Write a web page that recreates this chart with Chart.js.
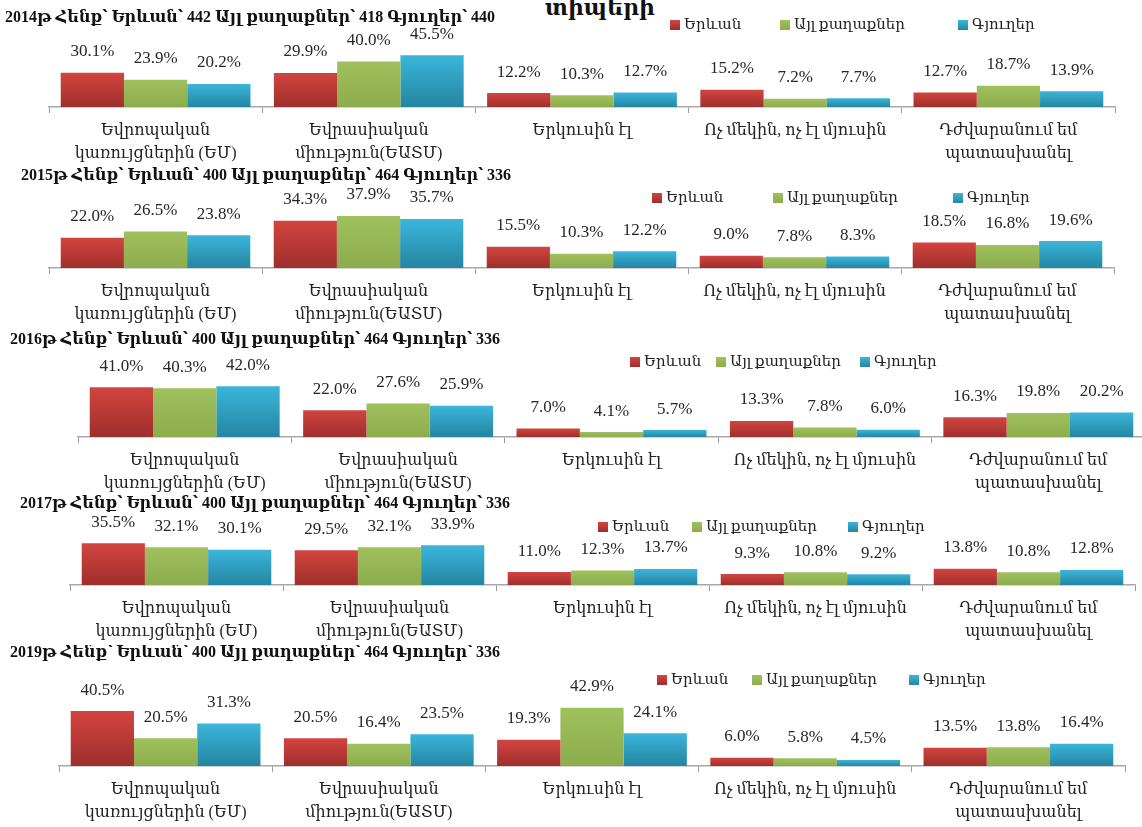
<!DOCTYPE html>
<html><head><meta charset="utf-8">
<script src="https://cdn.jsdelivr.net/npm/chart.js@4.4.1/dist/chart.umd.min.js"></script>
<style>
html,body{margin:0;padding:0;width:1142px;height:827px;overflow:hidden;background:#fff;}
canvas{position:absolute;left:0;}
#top{position:absolute;left:545px;top:-3px;font:bold 22px 'Liberation Serif','DejaVu Serif',serif;line-height:22px;color:#111;white-space:nowrap;}
</style></head><body>
<div id="top">տիպերի</div>
<script>
// ---- data ----
const categories = [["Եվրոպական","կառույցներին (ԵՄ)"],["Եվրասիական","միություն(ԵԱՏՄ)"],"Երկուսին էլ","Ոչ մեկին, ոչ էլ մյուսին",["Դժվարանում եմ","պատասխանել"]];
const seriesNames = ["Երևան","Այլ քաղաքներ","Գյուղեր"];
const years = ["2014","2015","2016","2017","2019"];
const chartTitles = [
  "2014թ Հենք՝ Երևան՝ 442 Այլ քաղաքներ՝ 418 Գյուղեր՝ 440",
  "2015թ Հենք՝ Երևան՝ 400 Այլ քաղաքներ՝ 464 Գյուղեր՝ 336",
  "2016թ Հենք՝ Երևան՝ 400 Այլ քաղաքներ՝ 464 Գյուղեր՝ 336",
  "2017թ Հենք՝ Երևան՝ 400 Այլ քաղաքներ՝ 464 Գյուղեր՝ 336",
  "2019թ Հենք՝ Երևան՝ 400 Այլ քաղաքներ՝ 464 Գյուղեր՝ 336"
];
const yerevan = [
  [30.1, 29.9, 12.2, 15.2, 12.7],
  [22.0, 34.3, 15.5, 9.0, 18.5],
  [41.0, 22.0, 7.0, 13.3, 16.3],
  [35.5, 29.5, 11.0, 9.3, 13.8],
  [40.5, 20.5, 19.3, 6.0, 13.5]
];
const otherCities = [
  [23.9, 40.0, 10.3, 7.2, 18.7],
  [26.5, 37.9, 10.3, 7.8, 16.8],
  [40.3, 27.6, 4.1, 7.8, 19.8],
  [32.1, 32.1, 12.3, 10.8, 10.8],
  [20.5, 16.4, 42.9, 5.8, 13.8]
];
const villages = [
  [20.2, 45.5, 12.7, 7.7, 13.9],
  [23.8, 35.7, 12.2, 8.3, 19.6],
  [42.0, 25.9, 5.7, 6.0, 20.2],
  [30.1, 33.9, 13.7, 9.2, 12.8],
  [31.3, 23.5, 24.1, 4.5, 16.4]
];
const yMaxes = [50, 40, 45, 40, 45];

// ---- layout / style ----
const FONT = "'Liberation Serif','DejaVu Serif',serif";
const layouts = [
  {top:0,   h:170, w:1142, plotTop:50,   base:107, left:49, right:1115, tx:5,  ty:18, lx:[670,780,958], ly:25},
  {top:165, h:170, w:1142, plotTop:48,   base:103, left:49, right:1114, tx:21, ty:11, lx:[652,773,953], ly:33},
  {top:330, h:170, w:1160, plotTop:52.5, base:107, left:78, right:1145, tx:10, ty:10, lx:[630,716,860], ly:32},
  {top:495, h:155, w:1142, plotTop:43,   base:90,  left:70, right:1135, tx:20, ty:9,  lx:[598,692,848], ly:32},
  {top:645, h:182, w:1142, plotTop:60,   base:121, left:59, right:1125, tx:10, ty:8,  lx:[657,752,909], ly:35}
];
const colors = [
  {top:'#D3443F', bottom:'#9E2F2C', flat:'#C0504D'},
  {top:'#9FC15C', bottom:'#8DAC4E', flat:'#9BBB59'},
  {top:'#3AB6DB', bottom:'#2585A2', flat:'#2FA3C6'}
];

function barFill(c0){
  return (c) => {
    const chart = c.chart, area = chart.chartArea;
    if (!area || c.type !== 'data' || !chart.scales.y) return c0.flat;
    const y = chart.scales.y.getPixelForValue(c.raw);
    const g = chart.ctx.createLinearGradient(0, y, 0, area.bottom);
    g.addColorStop(0, c0.top); g.addColorStop(1, c0.bottom);
    return g;
  };
}

const decor = {
  id: 'decor',
  afterDatasetsDraw(chart) {
    const ctx = chart.ctx;
    ctx.save();
    ctx.font = '17px ' + FONT;
    ctx.fillStyle = '#262626';
    ctx.textAlign = 'center';
    ctx.textBaseline = 'middle';
    chart.data.datasets.forEach((ds, i) => {
      chart.getDatasetMeta(i).data.forEach((bar, j) => {
        ctx.fillText(ds.data[j].toFixed(1) + '%', bar.x, bar.y - 21);
      });
    });
    ctx.restore();
  },
  afterDraw(chart, args, o) {
    const ctx = chart.ctx;
    ctx.save();
    ctx.textBaseline = 'middle';
    ctx.textAlign = 'left';
    ctx.font = 'bold 16px ' + FONT;
    ctx.fillStyle = '#111';
    ctx.fillText(o.title, o.tx, o.ty);
    ctx.font = '15px ' + FONT;
    chart.data.datasets.forEach((ds, i) => {
      const x = o.lx[i], y = o.ly;
      const g = ctx.createLinearGradient(0, y - 5, 0, y + 5);
      g.addColorStop(0, colors[i].top); g.addColorStop(1, colors[i].bottom);
      ctx.fillStyle = g;
      ctx.fillRect(x, y - 5, 10, 10);
      ctx.fillStyle = '#222';
      ctx.fillText(ds.label, x + 14, y);
    });
    ctx.restore();
  }
};

years.forEach((yr, k) => {
  const L = layouts[k];
  const cv = document.createElement('canvas');
  cv.width = L.w; cv.height = L.h;
  cv.style.top = L.top + 'px';
  cv.style.width = L.w + 'px'; cv.style.height = L.h + 'px';
  document.body.appendChild(cv);
  const series = [yerevan[k], otherCities[k], villages[k]];
  new Chart(cv, {
    type: 'bar',
    data: {
      labels: categories,
      datasets: series.map((d, i) => ({
        label: seriesNames[i],
        data: d,
        backgroundColor: barFill(colors[i]),
        borderWidth: 0,
        categoryPercentage: 0.89,
        barPercentage: 1.0
      }))
    },
    options: {
      responsive: false,
      animation: false,
      layout: { padding: { left: L.left, right: L.w - L.right, top: L.plotTop, bottom: 0 } },
      plugins: {
        legend: { display: false },
        tooltip: { enabled: false },
        title: { display: false },
        decor: { title: chartTitles[k], tx: L.tx, ty: L.ty, lx: L.lx, ly: L.ly }
      },
      scales: {
        x: {
          grid: { display: true, drawOnChartArea: false, drawTicks: true, tickLength: 6, color: '#9a9a9a', offset: true },
          border: { display: true, color: '#a8a8a8', width: 1.5 },
          ticks: { font: { family: FONT, size: 16, lineHeight: 1.4 }, color: '#222', padding: 7, maxRotation: 0, autoSkip: false },
          afterFit(s) { s.height = L.h - L.base; }
        },
        y: { display: false, min: 0, max: yMaxes[k] }
      }
    },
    plugins: [decor]
  });
});
</script>
</body></html>
